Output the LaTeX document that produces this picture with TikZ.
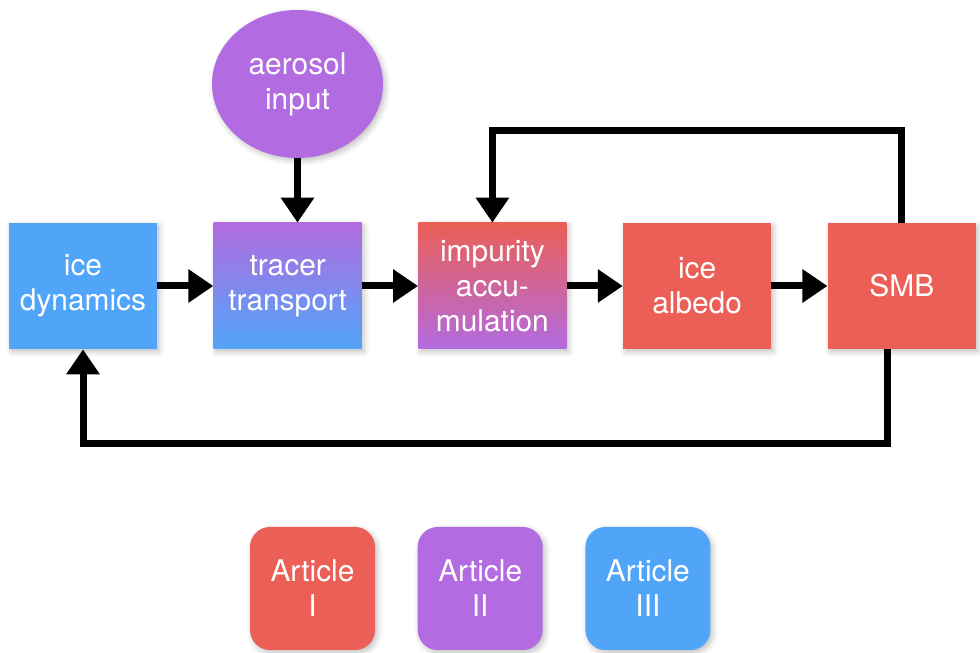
\documentclass[tikz,border=0pt]{standalone}
\usepackage{fontspec}
\setmainfont{TeX Gyre Heros}
\usetikzlibrary{arrows.meta, positioning, shadows.blur, shapes.geometric}
\definecolor{kred}{HTML}{EB5F56}
\definecolor{kpurple}{HTML}{B26BE0}
\definecolor{kblue}{HTML}{51A5F9}
\tikzset{
  block/.style={
    rectangle, minimum width=2.96cm, minimum height=2.52cm, inner sep=0pt,
    align=center, text=white, font=\fontsize{17}{20}\selectfont,
    blur shadow={shadow xshift=0.25ex, shadow yshift=-0.3ex, shadow opacity=25, shadow blur radius=0.6ex}
  },
  article/.style={
    block, rounded corners=0.4cm, minimum width=2.5cm, minimum height=2.46cm
  },
  source/.style={
    block, ellipse, minimum width=3.42cm, minimum height=2.96cm, fill=kpurple
  },
  arrow/.style={
    -{Triangle[length=0.5cm, width=0.64cm]}, line width=0.14cm, black
  }
}

\begin{document}
\begin{tikzpicture}
\useasboundingbox (0,0) rectangle (19.6,13.06);

% chain of processes
\node[block, fill=kblue] (dyn) at (1.66,7.34) {ice\\dynamics};
\node[block, top color=kpurple, bottom color=kblue, right=1.12cm of dyn] (tracer) {tracer\\transport};
\node[block, top color=kred, bottom color=kpurple, right=1.12cm of tracer] (imp) {impurity\\accu-\\mulation};
\node[block, fill=kred, right=1.12cm of imp] (albedo) {ice\\albedo};
\node[block, fill=kred, right=1.12cm of albedo] (smb) {SMB};

\node[source] (aerosol) at (5.95,11.38) {aerosol\\input};

\draw[arrow] (aerosol.south) -- (aerosol.south |- tracer.north);
\draw[arrow] (dyn) -- (tracer);
\draw[arrow] (tracer) -- (imp);
\draw[arrow] (imp) -- (albedo);
\draw[arrow] (albedo) -- (smb);

% feedback loops
\draw[arrow] (smb.north) -- ++(0,1.84) -| (imp.north);
\draw[arrow] ([xshift=-0.28cm]smb.south) -- ++(0,-1.88) -| (dyn.south);

% legend
\node[article, fill=kred] (art1) at (6.25,1.29) {Article\\I};
\node[article, fill=kpurple, right=0.84cm of art1] (art2) {Article\\II};
\node[article, fill=kblue, right=0.84cm of art2] (art3) {Article\\III};

\end{tikzpicture}
\end{document}
